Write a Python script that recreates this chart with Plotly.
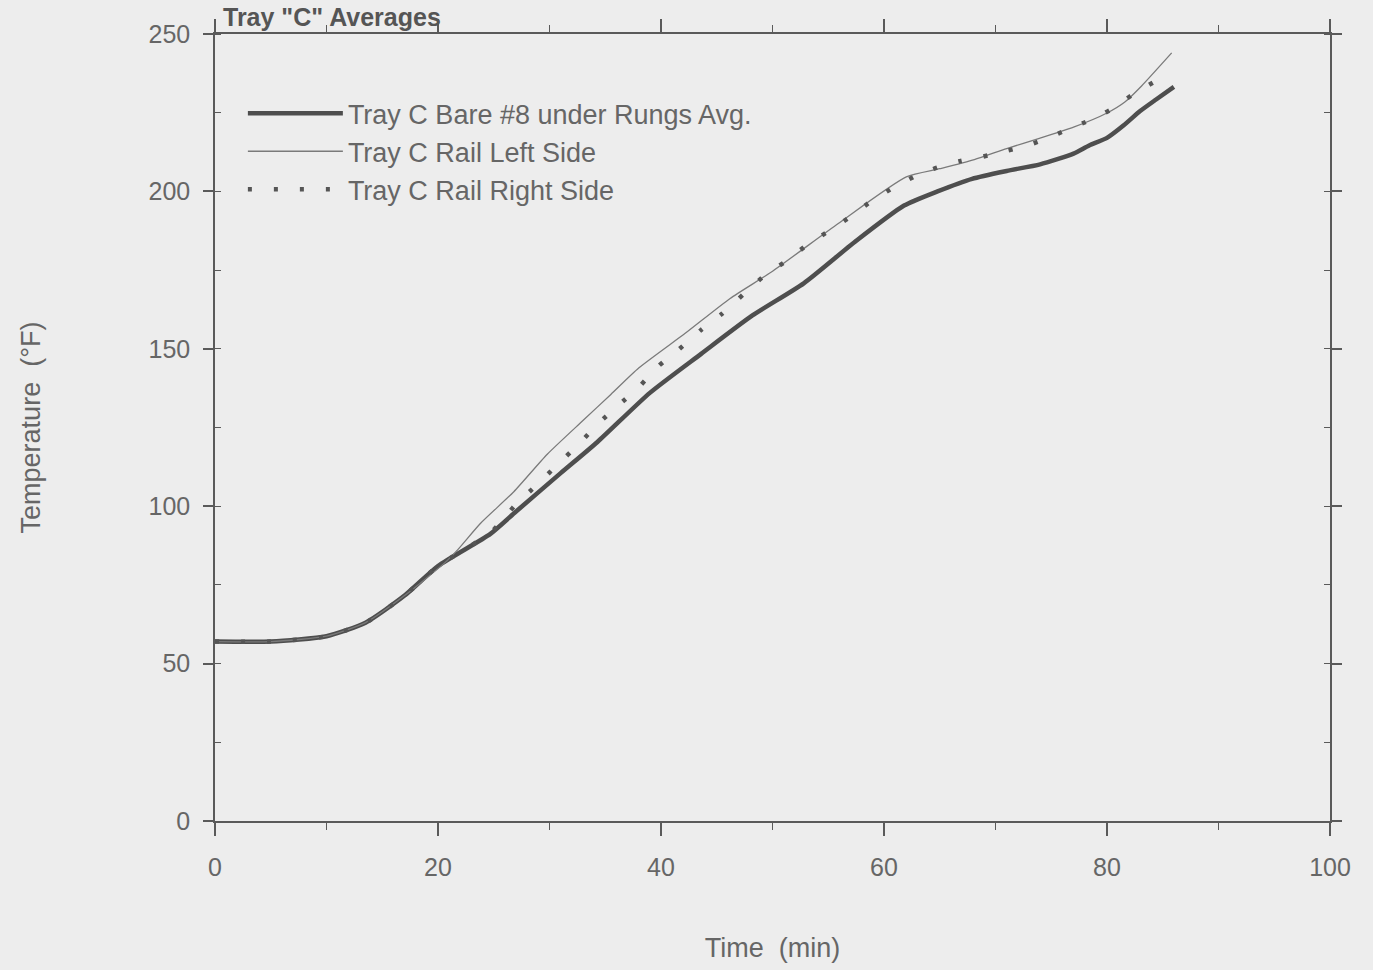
import plotly.graph_objects as go

# Tray C Bare #8 under Rungs Avg. (thick solid)
t_bare = [0, 5, 10, 13.5, 17, 20, 24.7, 27, 31, 34.3, 39, 43.6, 48.2, 52.8, 57.4,
          61.8, 64.8, 67.9, 71, 74, 77, 78.4, 80, 81.5, 83, 84.4, 86]
T_bare = [57, 57, 58.7, 63, 71.6, 81, 91.2, 98.3, 110.5, 120.4, 136, 148.4, 160.6, 170.8, 184,
          195.5, 200, 204, 206.5, 208.6, 212, 214.6, 217, 221, 225.6, 229.2, 233.2]

# Tray C Rail Left Side (thin solid)
t_left = [0, 5, 10, 13.5, 17, 20.6, 21.8, 23.8, 26.8, 29.8, 33, 35.5, 38, 42.2, 46.2,
          49.9, 55.9, 62, 65, 68.1, 71, 74, 77, 80, 81.6, 83.1, 85.8]
T_left = [57, 57, 58.7, 63, 71.6, 82, 86.3, 94.5, 104.6, 116.5, 127.2, 135.5, 143.9, 155, 166,
          174.4, 189.8, 204.6, 207.2, 210.1, 213.6, 216.9, 220.4, 224.9, 228.4, 233.5, 244]

# Tray C Rail Right Side (dotted)
t_right = [0, 5, 10, 13.5, 17, 20, 24.7, 27, 28.9, 30.6, 32.6, 34.3, 36.2, 38, 39.8, 41.6,
           43.6, 45.5, 47.5, 49.3, 51.2, 53.1, 55.1, 57, 58.9, 60.9, 62.9, 64.8, 66.8, 68.8,
           71, 72.7, 74.8, 76.6, 78.6, 80.4, 82.4, 84.2]
T_right = [57, 57, 58.7, 63, 71.6, 81, 91.5, 100.6, 106.9, 112.8, 119.6, 126, 132.1, 137.8, 144.6, 149.8,
           156, 161.2, 167.7, 173.3, 177.8, 183, 187.5, 192, 197, 201.3, 205, 207.6, 209.6, 211,
           212.9, 214.4, 217.1, 219.9, 222.8, 226.1, 231, 234.7]

x_ticks = [0, 20, 40, 60, 80, 100]
y_ticks = [0, 50, 100, 150, 200, 250]

BG = "#ededed"
INK = "#5a5a5a"
FONT = "Liberation Sans, Arial, sans-serif"

fig = go.Figure()
fig.add_trace(go.Scatter(x=t_bare, y=T_bare, mode="lines",
                         name="Tray C Bare #8 under Rungs Avg.",
                         line=dict(color="#4e4e4e", width=4.5, shape="spline", smoothing=0.6)))
fig.add_trace(go.Scatter(x=t_left, y=T_left, mode="lines",
                         name="Tray C Rail Left Side",
                         line=dict(color="#7a7a7a", width=1.3, shape="spline", smoothing=0.6)))
fig.add_trace(go.Scatter(x=t_right, y=T_right, mode="lines",
                         name="Tray C Rail Right Side",
                         line=dict(color="#555555", width=4.5, dash="4px,22px",
                                   shape="spline", smoothing=0.6)))

fig.update_layout(
    width=1373, height=970,
    paper_bgcolor=BG, plot_bgcolor=BG,
    margin=dict(l=215, r=43, t=34, b=146),
    font=dict(family=FONT, color="#666666"),
    showlegend=True,
    legend=dict(x=0.025, y=0.93, xanchor="left", yanchor="top",
                bgcolor="rgba(0,0,0,0)", itemwidth=95,
                font=dict(size=27, color="#666666", family=FONT),
                tracegroupgap=0),
    annotations=[dict(text="<b>Tray \"C\" Averages</b>", x=0.005, y=1.0,
                      xref="paper", yref="paper", xanchor="left", yanchor="bottom",
                      yshift=1, showarrow=False,
                      font=dict(size=25, color="#555555", family=FONT))],
)

fig.update_xaxes(
    range=[0, 100], tickvals=x_ticks, ticktext=[str(v) for v in x_ticks],
    showgrid=False, zeroline=False, showline=True, linecolor=INK, linewidth=1.5,
    mirror="ticks", ticks="outside", ticklen=13, tickcolor=INK, tickwidth=1.5,
    ticklabelstandoff=10,
    minor=dict(dtick=10, ticks="outside", ticklen=7, tickcolor=INK, tickwidth=1.2),
    tickfont=dict(size=25, color="#666666", family=FONT),
    title=dict(text="Time  (min)", font=dict(size=27, color="#666666", family=FONT), standoff=58),
)
fig.update_yaxes(
    range=[0, 250], tickvals=y_ticks, ticktext=[str(v) for v in y_ticks],
    showgrid=False, zeroline=False, showline=True, linecolor=INK, linewidth=1.5,
    mirror="ticks", ticks="outside", ticklen=10, tickcolor=INK, tickwidth=1.5,
    ticklabelstandoff=8,
    minor=dict(dtick=25, ticks="inside", ticklen=6, tickcolor=INK, tickwidth=1.2),
    tickfont=dict(size=25, color="#666666", family=FONT),
    title=dict(text="Temperature  (°F)", font=dict(size=27, color="#666666", family=FONT), standoff=100),
)

fig.write_html("out.html")
